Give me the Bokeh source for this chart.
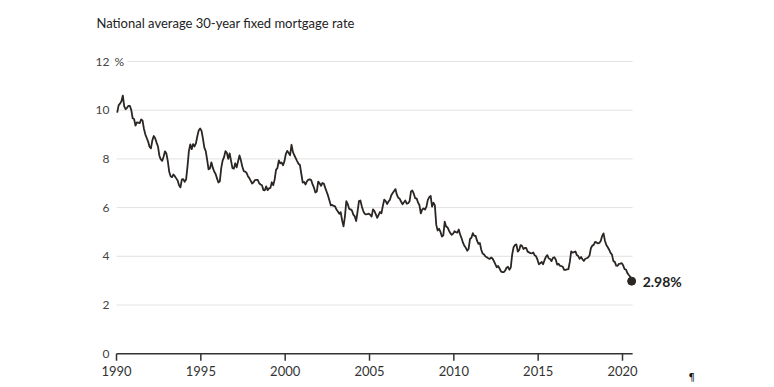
from bokeh.plotting import figure
from bokeh.models import Range1d
from bokeh.core.properties import value
from bokeh.embed import file_html
from bokeh.resources import INLINE

# ---- data (monthly averages) ----
title_text = "National average 30-year fixed mortgage rate"
start_year = 1990
rates_1990s = [
    9.90, 10.20, 10.27, 10.37, 10.60, 10.16, 10.04, 10.10, 10.18, 10.18, 10.01, 9.67,
    9.64, 9.37, 9.50, 9.49, 9.47, 9.62, 9.58, 9.24, 9.01, 8.86, 8.71, 8.50,
    8.43, 8.76, 8.94, 8.85, 8.67, 8.51, 8.13, 7.98, 7.92, 8.09, 8.31, 8.22,
    7.91, 7.47, 7.29, 7.25, 7.36, 7.29, 7.20, 7.11, 6.92, 6.83, 7.16, 7.17,
    7.06, 7.15, 7.68, 8.32, 8.60, 8.40, 8.61, 8.51, 8.64, 8.93, 9.17, 9.25,
    9.15, 8.83, 8.46, 8.32, 7.96, 7.57, 7.61, 7.86, 7.64, 7.48, 7.38, 7.20,
    7.03, 7.08, 7.62, 7.93, 8.07, 8.32, 8.25, 8.00, 8.23, 7.92, 7.62, 7.60,
    7.82, 7.65, 7.90, 8.14, 7.94, 7.69, 7.50, 7.48, 7.43, 7.29, 7.21, 7.10,
    6.99, 7.04, 7.13, 7.14, 7.14, 7.00, 6.95, 6.92, 6.72, 6.71, 6.87, 6.72,
    6.79, 6.81, 7.04, 6.92, 7.15, 7.55, 7.63, 7.94, 7.82, 7.85, 7.74, 7.91,
]
rates_2000s = [
    8.21, 8.33, 8.24, 8.15, 8.58, 8.29, 8.15, 8.03, 7.91, 7.80, 7.75, 7.38,
    7.03, 7.05, 6.95, 7.08, 7.15, 7.16, 7.13, 6.95, 6.82, 6.62, 6.66, 7.07,
    7.00, 6.89, 7.01, 6.99, 6.81, 6.65, 6.49, 6.29, 6.09, 6.11, 6.07, 6.05,
    5.92, 5.84, 5.75, 5.81, 5.48, 5.23, 5.63, 6.26, 6.15, 5.95, 5.93, 5.88,
    5.71, 5.64, 5.45, 5.83, 6.27, 6.29, 6.06, 5.87, 5.75, 5.72, 5.73, 5.75,
    5.71, 5.63, 5.93, 5.86, 5.72, 5.58, 5.70, 5.82, 5.77, 6.07, 6.33, 6.27,
    6.15, 6.25, 6.32, 6.51, 6.60, 6.68, 6.76, 6.52, 6.40, 6.36, 6.24, 6.14,
    6.22, 6.29, 6.16, 6.18, 6.26, 6.66, 6.70, 6.57, 6.38, 6.38, 6.21, 6.10,
    5.76, 5.92, 5.97, 5.92, 6.04, 6.32, 6.43, 6.48, 6.04, 6.20, 6.09, 5.29,
    5.06, 5.13, 5.00, 4.81, 4.86, 5.42, 5.22, 5.19, 5.06, 4.95, 4.88, 4.93,
]
rates_2010s = [
    5.03, 4.99, 4.97, 5.10, 4.89, 4.74, 4.56, 4.43, 4.35, 4.23, 4.30, 4.71,
    4.76, 4.95, 4.84, 4.84, 4.64, 4.51, 4.55, 4.27, 4.11, 4.07, 3.99, 3.96,
    3.92, 3.89, 3.95, 3.91, 3.80, 3.68, 3.55, 3.60, 3.50, 3.38, 3.35, 3.35,
    3.41, 3.53, 3.57, 3.45, 3.54, 4.07, 4.37, 4.46, 4.49, 4.19, 4.26, 4.46,
    4.43, 4.30, 4.34, 4.34, 4.19, 4.16, 4.13, 4.12, 4.16, 4.04, 4.00, 3.86,
    3.67, 3.71, 3.77, 3.67, 3.84, 3.98, 4.05, 3.91, 3.89, 3.80, 3.94, 3.96,
    3.87, 3.66, 3.69, 3.61, 3.60, 3.57, 3.44, 3.44, 3.46, 3.47, 3.77, 4.20,
    4.15, 4.17, 4.20, 4.05, 4.01, 3.90, 3.97, 3.88, 3.81, 3.90, 3.92, 3.95,
    4.03, 4.33, 4.44, 4.47, 4.59, 4.57, 4.53, 4.55, 4.63, 4.83, 4.94, 4.64,
    4.46, 4.37, 4.27, 4.14, 4.07, 3.80, 3.77, 3.62, 3.61, 3.69, 3.70, 3.72,
]
rates_2020 = [3.62, 3.47, 3.45, 3.31, 3.23, 3.16, 2.98]
latest_label = "2.98%"

x_ticks = [1990, 1995, 2000, 2005, 2010, 2015, 2020]
y_ticks = [0, 2, 4, 6, 8, 10, 12]
y_tick_labels = ["0", "2", "4", "6", "8", "10", "12"]
grid_values = [2, 4, 6, 8, 10, 12]

rates = rates_1990s + rates_2000s + rates_2010s + rates_2020
dates = [start_year + (i + 0.5) / 12 for i in range(len(rates))]

# ---- layout: the plot frame covers the whole canvas ----
W, H = 774, 387
px_per_year = 16.867
px_per_pct = 24.35
x0_px, y0_px = 116, 353.2          # screen position of (1990, 0)
x_lo = 1990 - x0_px / px_per_year
x_hi = 1990 + (W - x0_px) / px_per_year
y_hi = y0_px / px_per_pct
y_lo = -(H - y0_px) / px_per_pct

LINE = "#2b2623"
FONT = "Lato"
AX = "#333333"
x_start, x_axis_end = 1990, 2020.6

p = figure(width=W, height=H,
           x_range=Range1d(x_lo, x_hi), y_range=Range1d(y_lo, y_hi),
           output_backend="svg", toolbar_location=None,
           x_axis_location=None, y_axis_location=None,
           min_border=0)
p.outline_line_color = None
p.background_fill_color = "white"
p.border_fill_color = "white"
p.xgrid.visible = False
p.ygrid.visible = False

# grid lines (the 12 line starts after the "%" sign)
grid_x0 = [x_start, x_start, x_start, x_start, x_start, x_start + 11 / px_per_year]
p.segment(x0=grid_x0, y0=grid_values,
          x1=[x_axis_end] * len(grid_values), y1=grid_values,
          line_color="#e2e2e2", line_width=1)

# x axis line, ticks and labels
p.segment(x0=[x_start], y0=[0], x1=[x_axis_end], y1=[0],
          line_color=AX, line_width=1.5)
tick_len = 7 / px_per_pct
p.segment(x0=x_ticks, y0=[0] * len(x_ticks), x1=x_ticks, y1=[-tick_len] * len(x_ticks),
          line_color=AX, line_width=1.5)
p.text(x=x_ticks, y=[-12 / px_per_pct] * len(x_ticks), text=[str(t) for t in x_ticks],
       text_align="center", text_baseline="top",
       text_font=value(FONT), text_font_size="13px", text_color=AX)

# y tick labels
p.text(x=[x_start] * len(y_ticks), y=y_ticks, text=y_tick_labels, x_offset=-7,
       text_align="right", text_baseline="middle",
       text_font=value(FONT), text_font_size="12px", text_color="#444444")
p.text(x=[x_start], y=[y_ticks[-1]], text=["%"], x_offset=-2,
       text_align="left", text_baseline="middle",
       text_font=value(FONT), text_font_size="12px", text_color="#444444")

# data line and end point
p.line(dates, rates, line_color=LINE, line_width=1.8, line_join="round")
p.scatter([dates[-1]], [rates[-1]], size=8, color=LINE)

# end label
p.text(x=[dates[-1]], y=[rates[-1]], text=[latest_label], x_offset=11,
       text_align="left", text_baseline="middle",
       text_font=value(FONT), text_font_size="14px", text_font_style="bold",
       text_color="#222222")

# title
p.text(x=[x_start], y=[(y0_px - 22) / px_per_pct], text=[title_text], x_offset=-20,
       text_align="left", text_baseline="middle",
       text_font=value(FONT), text_font_size="13px", text_color="#222222")

# stray pilcrow
p.text(x=[x_start + (688 - x0_px) / px_per_year], y=[-(377 - y0_px) / px_per_pct],
       text=["\u00b6"], text_align="left", text_baseline="middle",
       text_font=value("DejaVu Sans"), text_font_size="10px", text_color="#111111")

open("out.html", "w").write(file_html(p, INLINE))
